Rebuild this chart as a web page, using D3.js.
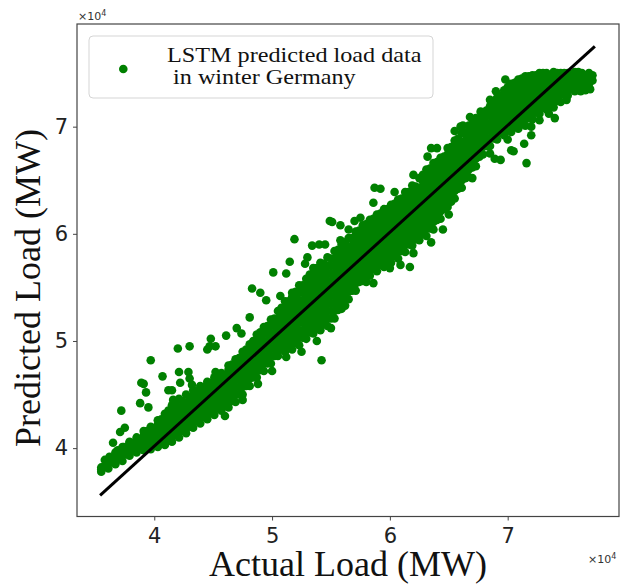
<!DOCTYPE html>
<html>
<head>
<meta charset="utf-8">
<script src="https://cdnjs.cloudflare.com/ajax/libs/d3/7.8.5/d3.min.js"></script>
<style>
  body { margin: 0; background: #fff; }
</style>
</head>
<body>
<div id="chart"></div>
<script>
// all loads in units of 10^4 MW (axes show x10^4)
// dense band: one actual-load column, the predicted loads read in it
var bandActual = [3.55,3.61,3.67,3.73,3.79,3.85,3.91,3.97,4.03,4.09,4.15,4.21,4.27,4.33,4.39,4.45,4.51,4.57,4.63,4.69,
  4.75,4.81,4.87,4.93,4.99,5.05,5.11,5.17,5.23,5.29,5.35,5.41,5.47,5.53,5.59,5.65,5.71,5.77,5.83,5.89,
  5.95,6.01,6.07,6.13,6.19,6.25,6.31,6.37,6.43,6.49,6.55,6.61,6.67,6.73,6.79,6.85,6.91,6.97,7.03,7.09,
  7.15,7.21,7.27,7.33,7.39,7.45,7.51,7.57,7.63,7.69,7.72];
var bandPredicted = [
  [3.78,3.82],[3.81,3.88],[3.85,3.91,3.96],[3.88,3.95,4.01],[3.93,4.00,4.06],[3.96,4.03,4.10],
  [3.98,4.05,4.12,4.16],[3.99,4.06,4.13,4.20],[4.01,4.08,4.15,4.22,4.26],[4.03,4.10,4.17,4.24,4.32],
  [4.06,4.13,4.20,4.27,4.34,4.40],[4.10,4.17,4.24,4.31,4.38,4.46],[4.14,4.21,4.28,4.35,4.42,4.50],
  [4.19,4.26,4.33,4.40,4.47,4.54],[4.23,4.30,4.37,4.44,4.51,4.58],[4.27,4.34,4.41,4.48,4.55,4.62],
  [4.31,4.38,4.45,4.52,4.59,4.66],[4.35,4.42,4.49,4.56,4.63,4.70],[4.38,4.45,4.52,4.59,4.66,4.73,4.77],
  [4.43,4.50,4.57,4.64,4.71,4.78,4.83],[4.50,4.57,4.64,4.71,4.78,4.85,4.90],[4.58,4.65,4.72,4.79,4.86,4.93,4.97],
  [4.66,4.73,4.80,4.87,4.94,5.01,5.06],[4.72,4.79,4.86,4.93,5.00,5.07,5.13],[4.79,4.86,4.93,5.00,5.07,5.14,5.20],
  [4.86,4.93,5.00,5.07,5.14,5.21,5.28],[4.90,4.97,5.04,5.11,5.18,5.25,5.32,5.37],
  [4.92,4.99,5.06,5.13,5.20,5.27,5.34,5.41,5.45],[4.96,5.03,5.10,5.17,5.24,5.31,5.38,5.45,5.52],
  [5.02,5.09,5.16,5.23,5.30,5.37,5.44,5.51,5.58],[5.07,5.14,5.21,5.28,5.35,5.42,5.49,5.56,5.63,5.68],
  [5.10,5.17,5.24,5.31,5.38,5.45,5.52,5.59,5.66,5.73],[5.14,5.21,5.28,5.35,5.42,5.49,5.56,5.63,5.70,5.78],
  [5.21,5.28,5.35,5.42,5.49,5.56,5.63,5.70,5.77,5.84],[5.30,5.37,5.44,5.51,5.58,5.65,5.72,5.79,5.86,5.90],
  [5.39,5.46,5.53,5.60,5.67,5.74,5.81,5.88,5.96],[5.47,5.54,5.61,5.68,5.75,5.82,5.89,5.96,6.02],
  [5.56,5.63,5.70,5.77,5.84,5.91,5.98,6.05,6.08],[5.61,5.68,5.75,5.82,5.89,5.96,6.03,6.10,6.13],
  [5.65,5.72,5.79,5.86,5.93,6.00,6.07,6.14,6.18],[5.69,5.76,5.83,5.90,5.97,6.04,6.11,6.18,6.23],
  [5.73,5.80,5.87,5.94,6.01,6.08,6.15,6.22,6.27],[5.77,5.84,5.91,5.98,6.05,6.12,6.19,6.26,6.32],
  [5.83,5.90,5.97,6.04,6.11,6.18,6.25,6.32,6.39],[5.89,5.96,6.03,6.10,6.17,6.24,6.31,6.38,6.45],
  [5.94,6.01,6.08,6.15,6.22,6.29,6.36,6.43,6.52],[5.98,6.05,6.12,6.19,6.26,6.33,6.40,6.47,6.54,6.60],
  [6.04,6.11,6.18,6.25,6.32,6.39,6.46,6.53,6.60,6.66],[6.14,6.21,6.28,6.35,6.42,6.49,6.56,6.63,6.71],
  [6.25,6.32,6.39,6.46,6.53,6.60,6.67,6.74,6.80],[6.33,6.40,6.47,6.54,6.61,6.68,6.75,6.82,6.87],
  [6.43,6.50,6.57,6.64,6.71,6.78,6.85,6.94],[6.53,6.60,6.67,6.74,6.81,6.88,6.95,7.01],
  [6.63,6.70,6.77,6.84,6.91,6.98,7.05,7.08],[6.74,6.81,6.88,6.95,7.02,7.09,7.13],
  [6.82,6.89,6.96,7.03,7.10,7.16,7.19],[6.88,6.95,7.02,7.09,7.16,7.23,7.27],
  [6.92,6.99,7.06,7.13,7.20,7.27,7.34],[6.95,7.02,7.09,7.16,7.23,7.30,7.37,7.40],
  [6.98,7.05,7.12,7.19,7.26,7.33,7.40,7.44],[7.01,7.08,7.15,7.22,7.29,7.36,7.43,7.47],
  [7.07,7.14,7.21,7.28,7.35,7.42,7.48],[7.12,7.19,7.26,7.33,7.40,7.47,7.50],
  [7.16,7.23,7.30,7.37,7.44,7.50],[7.18,7.25,7.32,7.39,7.46,7.51],[7.23,7.30,7.37,7.44,7.50],
  [7.29,7.36,7.43,7.50],[7.33,7.40,7.47,7.51],[7.37,7.44,7.50],[7.40,7.46,7.50],[7.43,7.48]
];
// in-between columns of the same band
var bandMidActual = [3.58,3.64,3.70,3.76,3.82,3.88,3.94,4.00,4.06,4.12,4.18,4.24,4.30,4.36,4.42,4.48,4.54,4.60,4.66,4.72,
  4.78,4.84,4.90,4.96,5.02,5.08,5.14,5.20,5.26,5.32,5.38,5.44,5.50,5.56,5.62,5.68,5.74,5.80,5.86,5.92,
  5.98,6.04,6.10,6.16,6.22,6.28,6.34,6.40,6.46,6.52,6.58,6.64,6.70,6.76,6.82,6.88,6.94,7.00,7.06,7.12,
  7.18,7.24,7.30,7.36,7.42,7.48,7.54,7.60,7.66];
var bandMidPredicted = [
  [3.83],[3.87],[3.90,3.97],[3.94,4.01],[3.98,4.05],[4.01,4.08],[4.02,4.09,4.16],[4.04,4.11,4.18],
  [4.06,4.13,4.20,4.27],[4.08,4.15,4.22,4.29,4.35],[4.12,4.19,4.26,4.33,4.40],[4.16,4.23,4.30,4.37,4.44],
  [4.20,4.27,4.34,4.41,4.48],[4.25,4.32,4.39,4.46,4.53],[4.29,4.36,4.43,4.50,4.57],[4.33,4.40,4.47,4.54,4.61],
  [4.37,4.44,4.51,4.58,4.65],[4.40,4.47,4.54,4.61,4.68],[4.44,4.51,4.58,4.65,4.72,4.78],
  [4.50,4.57,4.64,4.71,4.78,4.84],[4.58,4.65,4.72,4.79,4.86,4.92],[4.66,4.73,4.80,4.87,4.94,5.00],
  [4.73,4.80,4.87,4.94,5.01,5.08],[4.79,4.86,4.93,5.00,5.07,5.14],[4.86,4.93,5.00,5.07,5.14,5.21],
  [4.92,4.99,5.06,5.13,5.20,5.27,5.31],[4.95,5.02,5.09,5.16,5.23,5.30,5.37],
  [4.98,5.05,5.12,5.19,5.26,5.33,5.40,5.46],[5.03,5.10,5.17,5.24,5.31,5.38,5.45,5.52],
  [5.08,5.15,5.22,5.29,5.36,5.43,5.50,5.57,5.62],[5.12,5.19,5.26,5.33,5.40,5.47,5.54,5.61,5.68],
  [5.16,5.23,5.30,5.37,5.44,5.51,5.58,5.65,5.72],[5.21,5.28,5.35,5.42,5.49,5.56,5.63,5.70,5.77],
  [5.29,5.36,5.43,5.50,5.57,5.64,5.71,5.78,5.85],[5.38,5.45,5.52,5.59,5.66,5.73,5.80,5.87,5.92],
  [5.47,5.54,5.61,5.68,5.75,5.82,5.89,5.96],[5.55,5.62,5.69,5.76,5.83,5.90,5.97,6.03],
  [5.62,5.69,5.76,5.83,5.90,5.97,6.04,6.09],[5.67,5.74,5.81,5.88,5.95,6.02,6.09,6.14],
  [5.71,5.78,5.85,5.92,5.99,6.06,6.13,6.19],[5.75,5.82,5.89,5.96,6.03,6.10,6.17,6.23],
  [5.79,5.86,5.93,6.00,6.07,6.14,6.21,6.28],[5.84,5.91,5.98,6.05,6.12,6.19,6.26,6.33],
  [5.90,5.97,6.04,6.11,6.18,6.25,6.32,6.39],[5.95,6.02,6.09,6.16,6.23,6.30,6.37,6.44],
  [6.00,6.07,6.14,6.21,6.28,6.35,6.42,6.49,6.55],[6.05,6.12,6.19,6.26,6.33,6.40,6.47,6.54,6.61],
  [6.13,6.20,6.27,6.34,6.41,6.48,6.55,6.62,6.67],[6.23,6.30,6.37,6.44,6.51,6.58,6.65,6.72],
  [6.33,6.40,6.47,6.54,6.61,6.68,6.75,6.81],[6.42,6.49,6.56,6.63,6.70,6.77,6.84,6.89],
  [6.52,6.59,6.66,6.73,6.80,6.87,6.94],[6.62,6.69,6.76,6.83,6.90,6.97,7.03],
  [6.72,6.79,6.86,6.93,7.00,7.07],[6.82,6.89,6.96,7.03,7.10,7.15],[6.89,6.96,7.03,7.10,7.17,7.22],
  [6.94,7.01,7.08,7.15,7.22,7.29],[6.97,7.04,7.11,7.18,7.25,7.32,7.37],[7.00,7.07,7.14,7.21,7.28,7.35,7.41],
  [7.03,7.10,7.17,7.24,7.31,7.38,7.45],[7.08,7.15,7.22,7.29,7.36,7.43,7.47],[7.13,7.20,7.27,7.34,7.41,7.48],
  [7.18,7.25,7.32,7.39,7.46,7.50],[7.20,7.27,7.34,7.41,7.48],[7.24,7.31,7.38,7.45,7.50],
  [7.30,7.37,7.44,7.50],[7.35,7.42,7.49],[7.39,7.46,7.51],[7.42,7.48]
];
// ragged points along the band edges [actual, predicted]
var edgePoints = [
  [4.45,4.92],[4.70,5.12],[4.74,5.07],[4.95,5.38],[5.07,5.42],[5.28,5.72],[5.30,5.78],[5.45,5.90],
  [5.70,6.12],[5.75,6.15],[6.20,6.55],[6.32,6.72],[6.40,6.80],[6.55,6.96],[6.60,7.00],[6.85,7.25],
  [6.90,7.33],[4.60,4.30],[4.75,4.45],[4.88,4.60],[5.00,4.72],[5.12,4.85],[5.25,4.90],[5.38,5.00],
  [5.50,5.12],[5.62,5.33],[5.80,5.55],[6.00,5.68],[6.20,5.82],[6.35,5.92],[6.50,6.18],[6.70,6.52],
  [6.85,6.75],[7.00,6.88],[7.20,7.00],[7.35,7.12],[7.50,7.25],[7.62,7.33]
];
// scattered points away from the band [actual, predicted]
var outliers = [
  [3.55,3.80],[3.58,3.89],[3.62,3.92],[3.65,4.05],[3.69,3.98],[3.74,4.01],[3.79,4.05],[3.86,4.05],
  [3.72,4.35],[3.71,4.15],[3.75,4.19],[3.88,4.42],[3.95,4.38],[3.93,4.52],[3.89,4.61],[3.91,4.60],
  [3.97,4.82],[4.07,4.67],[4.12,4.54],[4.15,4.54],[4.16,4.45],[4.20,4.93],[4.21,4.71],[4.22,4.61],
  [4.29,4.71],[4.30,4.95],[4.30,4.65],[4.32,4.59],[4.47,4.95],[4.48,5.02],[4.52,4.95],[4.52,4.71],
  [4.61,5.05],[4.81,5.22],[4.83,5.49],[4.90,5.45],[5.01,5.64],[5.12,5.63],[5.15,5.74],[5.19,5.95],
  [5.34,5.89],[5.40,5.90],[5.51,6.11],[5.58,6.08],[5.49,6.12],[5.65,6.04],[5.58,5.94],[5.87,6.43],
  [5.92,6.42],[6.04,6.39],[5.86,6.29],[6.35,6.80],[6.52,6.30],[6.62,7.01],[6.68,7.09],[6.77,7.14],
  [6.98,7.44],[5.42,4.82],[5.86,5.54],[6.09,5.71],[6.17,5.69],[6.45,6.04],[6.89,6.70],[6.94,6.69],
  [7.03,6.78],[7.05,6.77],[7.14,6.84],[7.16,6.66],[7.20,6.92],[7.27,7.06],[7.40,7.08],[7.66,7.34],
  [7.70,7.35]
];
// black reference line
var lineActual = [3.54, 7.74];
var linePredicted = [3.56, 7.75];
var xTicks = [4, 5, 6, 7];
var yTicks = [4, 5, 6, 7];
var legendLines = ["LSTM predicted load data", " in winter Germany"];

var width = 629, height = 585;
var margin = {top: 24, right: 10, bottom: 68.5, left: 77};
var w = width - margin.left - margin.right;
var h = height - margin.top - margin.bottom;

var x = d3.scaleLinear().domain([3.344, 7.945]).range([0, w]);
var y = d3.scaleLinear().domain([3.362, 7.958]).range([h, 0]);

var svg = d3.select("#chart").append("svg")
  .attr("width", width)
  .attr("height", height)
  .style("font-family", "'DejaVu Sans', sans-serif");

var g = svg.append("g").attr("transform", "translate(" + margin.left + "," + margin.top + ")");

var points = [];
function addColumns(actual, predicted) {
  actual.forEach(function (a, i) {
    predicted[i].forEach(function (p) { points.push([a, p]); });
  });
}
addColumns(bandActual, bandPredicted);
addColumns(bandMidActual, bandMidPredicted);
edgePoints.forEach(function (d) { points.push(d); });
outliers.forEach(function (d) { points.push(d); });

g.selectAll("circle.pt")
  .data(points)
  .enter().append("circle")
  .attr("class", "pt")
  .attr("cx", function (d) { return x(d[0]); })
  .attr("cy", function (d) { return y(d[1]); })
  .attr("r", 4.3)
  .style("fill", "#008000");

g.append("line")
  .attr("x1", x(lineActual[0])).attr("y1", y(linePredicted[0]))
  .attr("x2", x(lineActual[1])).attr("y2", y(linePredicted[1]))
  .attr("stroke", "#000")
  .attr("stroke-width", 3);

// axes
var xAxis = g.append("g").attr("transform", "translate(0," + h + ")")
  .call(d3.axisBottom(x).tickValues(xTicks).tickFormat(d3.format("d")).tickSize(4).tickPadding(7.5));
var yAxis = g.append("g")
  .call(d3.axisLeft(y).tickValues(yTicks).tickFormat(d3.format("d")).tickSize(4).tickPadding(5));
[xAxis, yAxis].forEach(function (ax) {
  ax.select(".domain").remove();
  ax.selectAll(".tick line").attr("stroke", "#444");
  ax.selectAll(".tick text")
    .style("font-family", "'DejaVu Sans', sans-serif")
    .style("font-size", "21px")
    .attr("fill", "#222");
});

g.append("rect")
  .attr("x", 0).attr("y", 0).attr("width", w).attr("height", h)
  .attr("fill", "none").attr("stroke", "#444").attr("stroke-width", 1.2);

// x10^4 offset labels
function offsetLabel(px, py) {
  var t = svg.append("text").attr("x", px).attr("y", py)
    .style("font-size", "11px").attr("fill", "#333");
  t.append("tspan").text("\u00d710");
  t.append("tspan").attr("dy", -4).style("font-size", "8px").text("4");
}
offsetLabel(78, 20);
offsetLabel(588, 563);

// axis titles
svg.append("text")
  .attr("x", margin.left + w / 2).attr("y", 576)
  .attr("text-anchor", "middle")
  .style("font-family", "'Liberation Serif', 'Times New Roman', serif")
  .style("font-size", "36px")
  .attr("fill", "#111")
  .text("Actual Load (MW)");

svg.append("text")
  .attr("transform", "translate(40,288) rotate(-90)")
  .attr("text-anchor", "middle")
  .style("font-family", "'Liberation Serif', 'Times New Roman', serif")
  .style("font-size", "36px")
  .attr("fill", "#111")
  .text("Predicted Load (MW)");

// legend
var lg = svg.append("g");
lg.append("rect")
  .attr("x", 89).attr("y", 36).attr("width", 344).attr("height", 62)
  .attr("rx", 4).attr("fill", "#fff").attr("stroke", "#d5d5d5");
lg.append("circle").attr("cx", 123.3).attr("cy", 69).attr("r", 4.3).style("fill", "#008000");
lg.append("g")
  .attr("transform", "translate(167,0) scale(1.1,1)")
  .selectAll("text.lg")
  .data(legendLines)
  .enter().append("text")
  .attr("class", "lg")
  .attr("x", 0).attr("y", function (d, i) { return 62 + i * 21.7; })
  .attr("xml:space", "preserve")
  .style("white-space", "pre")
  .style("font-family", "'Liberation Serif', 'Times New Roman', serif")
  .style("font-size", "22px")
  .attr("fill", "#111")
  .text(function (d) { return d; });
</script>
</body>
</html>
